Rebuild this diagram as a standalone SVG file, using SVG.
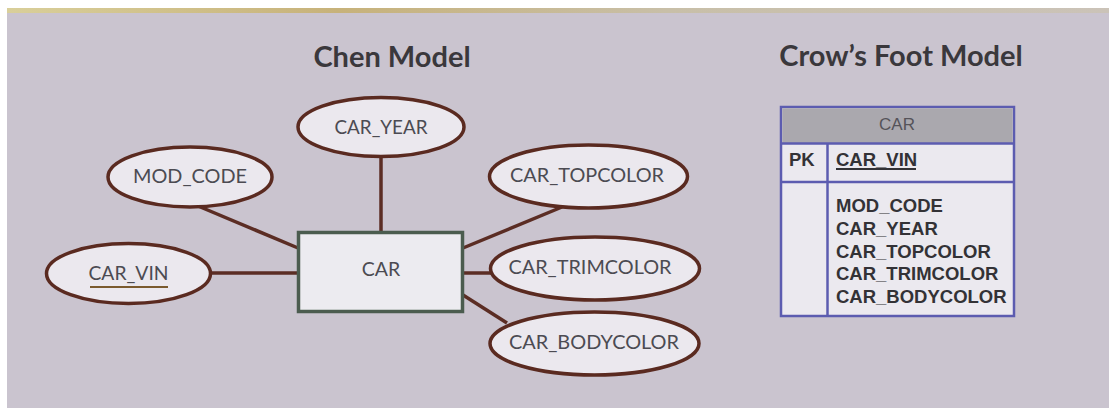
<svg xmlns="http://www.w3.org/2000/svg" width="1109" height="408" viewBox="0 0 1109 408">
<defs>
<linearGradient id="topband" x1="0" y1="0" x2="1" y2="0">
<stop offset="0" stop-color="#d9cf9a"/>
<stop offset="0.3" stop-color="#c7b27a"/>
<stop offset="0.6" stop-color="#c8bfa8"/>
<stop offset="1" stop-color="#cbc3b8"/>
</linearGradient>
<style>
.title{font-family:Lato,"Open Sans","Liberation Sans",sans-serif;font-weight:bold;font-size:29px;fill:#3a383c}
.attr{fill:#ebe8ee;stroke:#5a2a20;stroke-width:3.5}
.lbl{font-family:Lato,"Open Sans","Liberation Sans",sans-serif;font-size:19.5px;fill:#4c4b52;text-anchor:middle}
.conn line{stroke:#5b2d24;stroke-width:3.5}
.tbl{fill:#ebe9ef;stroke:#5c5cb0;stroke-width:2.5}
.tt{font-family:"Liberation Sans",Arial,sans-serif;font-weight:bold;font-size:18.5px;fill:#333236}
</style>
</defs>
<rect width="1109" height="408" fill="#ffffff"/>
<rect x="7" y="9" width="1102" height="399" fill="#cac4cf"/>
<rect x="7" y="8" width="1102" height="5" fill="url(#topband)"/>

<text class="title" x="392" y="67" text-anchor="middle">Chen Model</text>
<text class="title" x="901" y="66" text-anchor="middle">Crow’s Foot Model</text>

<g id="connectors" class="conn">
<line x1="381" y1="157" x2="381" y2="232"/>
<line x1="198" y1="206" x2="298" y2="248"/>
<line x1="210" y1="273" x2="298" y2="273"/>
<line x1="463" y1="248" x2="562" y2="207"/>
<line x1="463" y1="273" x2="491" y2="273"/>
<line x1="463" y1="295" x2="507" y2="323"/>
</g>

<g id="car">
<rect x="298.5" y="232.5" width="164" height="79" fill="#ecebf0" stroke="#4b5c4f" stroke-width="3.5"/>
<text class="lbl" x="381" y="276">CAR</text>
</g>
<g id="car_year">
<ellipse class="attr" cx="381" cy="127" rx="83" ry="29.5"/>
<text class="lbl" x="381" y="134" textLength="93" lengthAdjust="spacingAndGlyphs">CAR_YEAR</text>
</g>
<g id="mod_code">
<ellipse class="attr" cx="190" cy="177" rx="82" ry="30"/>
<text class="lbl" x="190" y="183" textLength="114" lengthAdjust="spacingAndGlyphs">MOD_CODE</text>
</g>
<g id="car_vin">
<ellipse class="attr" cx="128.5" cy="273.5" rx="82" ry="30"/>
<text class="lbl" x="128.5" y="280" textLength="80" lengthAdjust="spacingAndGlyphs">CAR_VIN</text>
<line x1="90" y1="287" x2="168" y2="287" stroke="#7a5a2e" stroke-width="2"/>
</g>
<g id="car_topcolor">
<ellipse class="attr" cx="588.5" cy="176.5" rx="99" ry="31.5"/>
<text class="lbl" x="587" y="182" textLength="154" lengthAdjust="spacingAndGlyphs">CAR_TOPCOLOR</text>
</g>
<g id="car_trimcolor">
<ellipse class="attr" cx="595" cy="268.5" rx="104.5" ry="31.5"/>
<text class="lbl" x="590" y="274" textLength="163" lengthAdjust="spacingAndGlyphs">CAR_TRIMCOLOR</text>
</g>
<g id="car_bodycolor">
<ellipse class="attr" cx="594.5" cy="343.5" rx="104.5" ry="31.5"/>
<text class="lbl" x="594" y="349" textLength="170" lengthAdjust="spacingAndGlyphs">CAR_BODYCOLOR</text>
</g>

<g id="crowsfoot_car">
<rect class="tbl" x="781" y="107" width="233" height="209"/>
<rect x="782.25" y="108.25" width="230.5" height="35" fill="#aaa8ae"/>
<line x1="781" y1="143.5" x2="1014" y2="143.5" stroke="#5c5cb0" stroke-width="2.5"/>
<line x1="781" y1="182" x2="1014" y2="182" stroke="#5c5cb0" stroke-width="2.5"/>
<line x1="827.5" y1="143.5" x2="827.5" y2="316" stroke="#5c5cb0" stroke-width="2.5"/>
<text x="897" y="130" text-anchor="middle" font-family="Liberation Sans, Arial, sans-serif" font-size="17px" fill="#555359">CAR</text>
<text class="tt" x="789" y="166">PK</text>
<text class="tt" x="836" y="166">CAR_VIN</text>
<line x1="836" y1="169" x2="916" y2="169" stroke="#333236" stroke-width="2"/>
<text class="tt" x="836" y="212">MOD_CODE</text>
<text class="tt" x="836" y="234.5">CAR_YEAR</text>
<text class="tt" x="836" y="257.5">CAR_TOPCOLOR</text>
<text class="tt" x="836" y="280">CAR_TRIMCOLOR</text>
<text class="tt" x="836" y="303">CAR_BODYCOLOR</text>
</g>
</svg>
